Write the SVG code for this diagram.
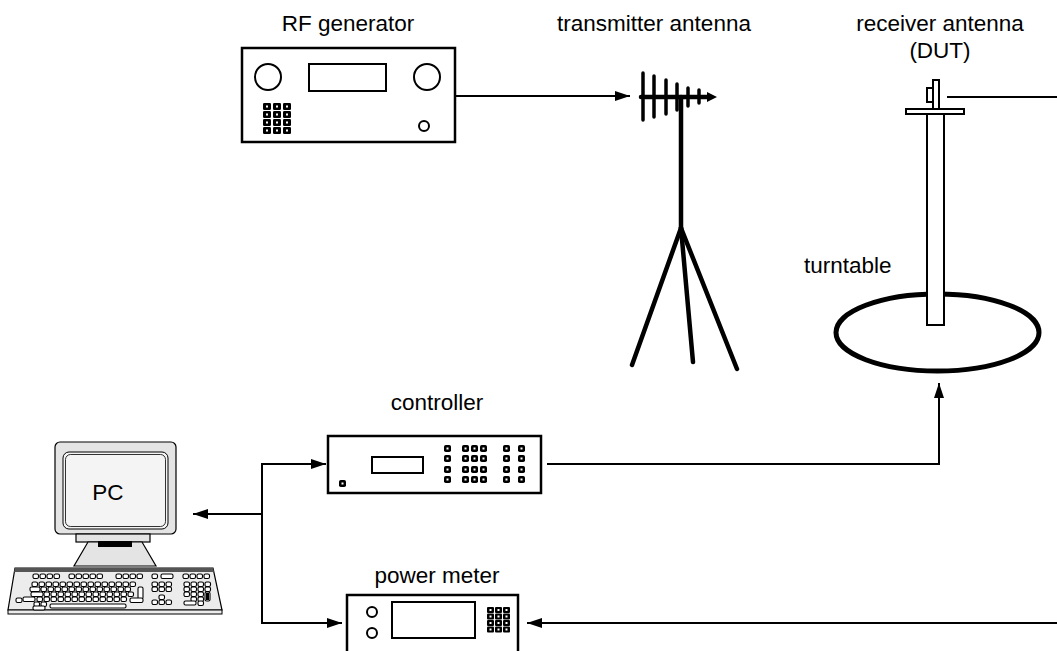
<svg xmlns="http://www.w3.org/2000/svg" xmlns:xlink="http://www.w3.org/1999/xlink" width="1057" height="651" viewBox="0 0 1057 651">
  <style>
    .lbl { font-family: "Liberation Sans", Arial, sans-serif; font-size: 22.5px; fill: #000; }
    .box { fill: #fff; stroke: #000; stroke-width: 2.5; }
    .thin { fill: #fff; stroke: #000; stroke-width: 2; }
    .wire { fill: none; stroke: #000; stroke-width: 2; }
    .rod { stroke: #000; stroke-linecap: round; fill: none; }
    .grey { fill: #e4e4e4; stroke: #000; stroke-width: 1.2; }
    .kb { fill: #fff; stroke: #000; stroke-width: 1.1; }
  </style>
  <defs>
    <marker id="arrow" markerUnits="userSpaceOnUse" markerWidth="15" markerHeight="10" refX="15" refY="5" orient="auto">
      <path d="M0,0 L15,5 L0,10 z" fill="#000"/>
    </marker>
    <!-- instrument push-buttons -->
    <g id="key6">
      <rect x="0" y="0" width="7" height="7" rx="1.8" fill="#000"/>
      <rect x="2.5" y="2.5" width="2" height="2" fill="#fff"/>
    </g>
    <g id="key8">
      <rect x="0" y="0" width="8" height="7" rx="1.2" fill="#000"/>
      <rect x="3" y="2.5" width="2" height="2" fill="#fff"/>
    </g>
    <g id="key7">
      <rect x="0" y="0" width="7" height="6" rx="1" fill="#000"/>
      <rect x="2.5" y="2" width="2" height="2" fill="#fff"/>
    </g>
    <!-- keyboard key -->
    <rect id="kk" x="0" y="0" width="5.5" height="4.5" rx="1.6" class="kb"/>
  </defs>

  <!-- RF generator -->
  <g id="rf-generator">
    <text class="lbl" x="348" y="31" text-anchor="middle">RF generator</text>
    <rect class="box" x="242" y="48" width="213" height="94"/>
    <circle class="thin" cx="268" cy="77" r="13"/>
    <circle class="thin" cx="427" cy="77" r="13"/>
    <rect class="thin" x="309" y="64" width="77" height="27"/>
    <circle class="thin" cx="424" cy="126" r="5" stroke-width="2.5"/>
    <g>
      <use xlink:href="#key8" x="263" y="103"/><use xlink:href="#key8" x="273" y="103"/><use xlink:href="#key8" x="283" y="103"/>
      <use xlink:href="#key8" x="263" y="111"/><use xlink:href="#key8" x="273" y="111"/><use xlink:href="#key8" x="283" y="111"/>
      <use xlink:href="#key8" x="263" y="119"/><use xlink:href="#key8" x="273" y="119"/><use xlink:href="#key8" x="283" y="119"/>
      <use xlink:href="#key8" x="263" y="127"/><use xlink:href="#key8" x="273" y="127"/><use xlink:href="#key8" x="283" y="127"/>
    </g>
  </g>

  <!-- transmitter antenna on tripod -->
  <g id="transmitter-antenna">
    <text class="lbl" x="654" y="31" text-anchor="middle">transmitter antenna</text>
    <line class="rod" x1="681" y1="97" x2="681" y2="228" stroke-width="4.5" stroke-linecap="butt"/>
    <line class="rod" x1="681" y1="228" x2="632" y2="365" stroke-width="4.5"/>
    <line class="rod" x1="681" y1="228" x2="693" y2="362" stroke-width="4.5"/>
    <line class="rod" x1="681" y1="228" x2="737" y2="369" stroke-width="4.5"/>
    <line class="rod" x1="641" y1="97" x2="709" y2="97" stroke-width="4.5" stroke-linecap="butt"/>
    <path d="M707,92 L717,97 L707,102 z" fill="#000"/>
    <g stroke-width="3.5" class="rod" stroke-linecap="butt">
      <line x1="643" y1="73" x2="643" y2="120"/>
      <line x1="654" y1="76" x2="654" y2="117"/>
      <line x1="666" y1="80" x2="666" y2="114"/>
      <line x1="677" y1="84" x2="677" y2="110"/>
      <line x1="688" y1="88" x2="688" y2="106"/>
      <line x1="699" y1="90" x2="699" y2="103"/>
    </g>
  </g>

  <!-- receiver antenna (DUT) on mast -->
  <g id="receiver-antenna">
    <text class="lbl" x="940" y="31" text-anchor="middle">receiver antenna</text>
    <text class="lbl" x="940" y="58" text-anchor="middle">(DUT)</text>
    <rect class="thin" x="927" y="88" width="6" height="14" stroke-width="1.5"/>
    <rect class="thin" x="933" y="80" width="6" height="29" stroke-width="2"/>
  </g>

  <!-- turntable with mast -->
  <g id="turntable">
    <text class="lbl" x="804" y="273">turntable</text>
    <ellipse cx="937.5" cy="332.5" rx="101.5" ry="38.5" fill="none" stroke="#000" stroke-width="5"/>
    <rect class="thin" x="927" y="113" width="17" height="212"/>
    <rect class="thin" x="906" y="109" width="58" height="5" stroke-width="2.5"/>
  </g>

  <!-- controller -->
  <g id="controller">
    <text class="lbl" x="437" y="410" text-anchor="middle">controller</text>
    <rect class="box" x="328" y="436" width="213" height="57"/>
    <rect class="thin" x="372" y="457" width="51" height="16"/>
    <use xlink:href="#key6" x="339" y="480"/>
    <g>
      <use xlink:href="#key6" x="444" y="445"/><use xlink:href="#key6" x="462" y="445"/><use xlink:href="#key6" x="471" y="445"/><use xlink:href="#key6" x="480" y="445"/><use xlink:href="#key6" x="503" y="445"/><use xlink:href="#key6" x="518" y="445"/>
      <use xlink:href="#key6" x="444" y="455"/><use xlink:href="#key6" x="462" y="455"/><use xlink:href="#key6" x="471" y="455"/><use xlink:href="#key6" x="480" y="455"/><use xlink:href="#key6" x="503" y="455"/><use xlink:href="#key6" x="518" y="455"/>
      <use xlink:href="#key6" x="444" y="466"/><use xlink:href="#key6" x="462" y="466"/><use xlink:href="#key6" x="471" y="466"/><use xlink:href="#key6" x="480" y="466"/><use xlink:href="#key6" x="503" y="466"/><use xlink:href="#key6" x="518" y="466"/>
      <use xlink:href="#key6" x="444" y="476"/><use xlink:href="#key6" x="462" y="476"/><use xlink:href="#key6" x="471" y="476"/><use xlink:href="#key6" x="480" y="476"/><use xlink:href="#key6" x="503" y="476"/><use xlink:href="#key6" x="518" y="476"/>
    </g>
  </g>

  <!-- power meter -->
  <g id="power-meter">
    <text class="lbl" x="437" y="583" text-anchor="middle">power meter</text>
    <rect class="box" x="347" y="595" width="171" height="70"/>
    <circle class="thin" cx="372" cy="612" r="5"/>
    <circle class="thin" cx="372" cy="633" r="5"/>
    <rect class="thin" x="392" y="602" width="83" height="36"/>
    <g>
      <use xlink:href="#key7" x="487" y="607"/><use xlink:href="#key7" x="495" y="607"/><use xlink:href="#key7" x="503" y="607"/>
      <use xlink:href="#key7" x="487" y="613.5"/><use xlink:href="#key7" x="495" y="613.5"/><use xlink:href="#key7" x="503" y="613.5"/>
      <use xlink:href="#key7" x="487" y="620"/><use xlink:href="#key7" x="495" y="620"/><use xlink:href="#key7" x="503" y="620"/>
      <use xlink:href="#key7" x="487" y="626.5"/><use xlink:href="#key7" x="495" y="626.5"/><use xlink:href="#key7" x="503" y="626.5"/>
    </g>
  </g>

  <!-- PC: monitor, stand and keyboard -->
  <g id="pc">
    <rect class="grey" x="55" y="442" width="121" height="92" rx="5"/>
    <rect x="63" y="452" width="105" height="77" rx="6" fill="#f4f4f4" stroke="#000" stroke-width="1"/>
    <rect x="65.5" y="454.5" width="100" height="72" rx="5" fill="#f4f4f4" stroke="#000" stroke-width="0.8"/>
    <text class="lbl" x="108" y="500" text-anchor="middle">PC</text>
    <rect class="grey" x="76" y="534" width="74" height="8"/>
    <polygon class="grey" points="88,542 142,542 156,566 74,566"/>
    <rect x="98" y="541" width="34" height="6" fill="#000"/>
    <!-- keyboard -->
    <polygon points="15,568 213,568 222,610 8,610" fill="#ececec" stroke="#000" stroke-width="1.2"/>
    <polygon points="15,568 213,568 214,572 14,572" fill="#555"/>
    <rect x="8" y="610" width="214" height="4" fill="#ececec" stroke="#000" stroke-width="1"/>
    <g id="keys">
      <!-- function row -->
      <use xlink:href="#kk" x="33" y="574"/><use xlink:href="#kk" x="40" y="574"/><use xlink:href="#kk" x="47" y="574"/><use xlink:href="#kk" x="54" y="574"/>
      <use xlink:href="#kk" x="69" y="574"/><use xlink:href="#kk" x="76" y="574"/><use xlink:href="#kk" x="83" y="574"/><use xlink:href="#kk" x="90" y="574"/><use xlink:href="#kk" x="97" y="574"/>
      <use xlink:href="#kk" x="116" y="574"/><use xlink:href="#kk" x="123" y="574"/><use xlink:href="#kk" x="130" y="574"/><use xlink:href="#kk" x="137" y="574"/>
      <use xlink:href="#kk" x="152" y="574"/><rect class="kb" x="161" y="574" width="12" height="4.5" rx="1.6"/>
      <use xlink:href="#kk" x="183" y="574"/><use xlink:href="#kk" x="190" y="574"/><use xlink:href="#kk" x="197" y="574"/><use xlink:href="#kk" x="204" y="574"/>
      <!-- main block rows -->
      <g>
        <use xlink:href="#kk" x="32" y="582"/><use xlink:href="#kk" x="39" y="582"/><use xlink:href="#kk" x="46" y="582"/><use xlink:href="#kk" x="53" y="582"/><use xlink:href="#kk" x="60" y="582"/><use xlink:href="#kk" x="67" y="582"/><use xlink:href="#kk" x="74" y="582"/><use xlink:href="#kk" x="81" y="582"/><use xlink:href="#kk" x="88" y="582"/><use xlink:href="#kk" x="95" y="582"/><use xlink:href="#kk" x="102" y="582"/><use xlink:href="#kk" x="109" y="582"/><use xlink:href="#kk" x="116" y="582"/><use xlink:href="#kk" x="123" y="582"/><use xlink:href="#kk" x="130" y="582"/>
        <rect class="kb" x="30" y="587" width="10" height="4.5" rx="1.6"/><use xlink:href="#kk" x="41" y="587"/><use xlink:href="#kk" x="48" y="587"/><use xlink:href="#kk" x="55" y="587"/><use xlink:href="#kk" x="62" y="587"/><use xlink:href="#kk" x="69" y="587"/><use xlink:href="#kk" x="76" y="587"/><use xlink:href="#kk" x="83" y="587"/><use xlink:href="#kk" x="90" y="587"/><use xlink:href="#kk" x="97" y="587"/><use xlink:href="#kk" x="104" y="587"/><use xlink:href="#kk" x="111" y="587"/><use xlink:href="#kk" x="118" y="587"/><use xlink:href="#kk" x="125" y="587"/>
        <rect class="kb" x="138" y="587" width="5" height="12" rx="1.5"/>
        <rect class="kb" x="31" y="592" width="12" height="4.5" rx="1.6"/><use xlink:href="#kk" x="44" y="592"/><use xlink:href="#kk" x="51" y="592"/><use xlink:href="#kk" x="58" y="592"/><use xlink:href="#kk" x="65" y="592"/><use xlink:href="#kk" x="72" y="592"/><use xlink:href="#kk" x="79" y="592"/><use xlink:href="#kk" x="86" y="592"/><use xlink:href="#kk" x="93" y="592"/><use xlink:href="#kk" x="100" y="592"/><use xlink:href="#kk" x="107" y="592"/><use xlink:href="#kk" x="114" y="592"/><use xlink:href="#kk" x="121" y="592"/><use xlink:href="#kk" x="128" y="592"/>
        <rect class="kb" x="16" y="598" width="6" height="4.5" rx="1.6"/><rect class="kb" x="23" y="597" width="12" height="4.5" rx="1.6"/><use xlink:href="#kk" x="37" y="597"/><use xlink:href="#kk" x="44" y="597"/><use xlink:href="#kk" x="51" y="597"/><use xlink:href="#kk" x="58" y="597"/><use xlink:href="#kk" x="65" y="597"/><use xlink:href="#kk" x="72" y="597"/><use xlink:href="#kk" x="79" y="597"/><use xlink:href="#kk" x="86" y="597"/><use xlink:href="#kk" x="93" y="597"/><use xlink:href="#kk" x="100" y="597"/><use xlink:href="#kk" x="107" y="597"/><use xlink:href="#kk" x="114" y="597"/><use xlink:href="#kk" x="121" y="597"/><rect class="kb" x="130" y="598" width="13" height="4.5" rx="1.6"/>
        <use xlink:href="#kk" x="34" y="602"/><use xlink:href="#kk" x="41" y="602"/><rect class="kb" x="33" y="606" width="12" height="4" rx="1.5"/>
        <rect class="kb" x="50" y="604" width="76" height="4" rx="1.5"/>
      </g>
      <!-- navigation block -->
      <g>
        <use xlink:href="#kk" x="152" y="582"/><use xlink:href="#kk" x="159" y="582"/><use xlink:href="#kk" x="166" y="582"/>
        <use xlink:href="#kk" x="152" y="587"/><use xlink:href="#kk" x="159" y="587"/><use xlink:href="#kk" x="166" y="587"/>
        <use xlink:href="#kk" x="159" y="595"/>
        <use xlink:href="#kk" x="152" y="600"/><use xlink:href="#kk" x="159" y="600"/><use xlink:href="#kk" x="166" y="600"/>
      </g>
      <!-- numeric keypad -->
      <g>
        <use xlink:href="#kk" x="184" y="582"/><use xlink:href="#kk" x="191" y="582"/><use xlink:href="#kk" x="198" y="582"/><use xlink:href="#kk" x="205" y="582"/>
        <use xlink:href="#kk" x="184" y="587"/><use xlink:href="#kk" x="191" y="587"/><use xlink:href="#kk" x="198" y="587"/><use xlink:href="#kk" x="205" y="587"/>
        <use xlink:href="#kk" x="184" y="592"/><use xlink:href="#kk" x="191" y="592"/><use xlink:href="#kk" x="198" y="592"/>
        <rect class="kb" x="205" y="592" width="5" height="9" rx="1.5"/>
        <use xlink:href="#kk" x="191" y="597"/><use xlink:href="#kk" x="198" y="597"/>
        <rect class="kb" x="184" y="601" width="12" height="4" rx="1.5"/><use xlink:href="#kk" x="198" y="601"/>
        <rect x="206" y="593" width="3" height="7" fill="#000"/>
      </g>
    </g>
  </g>

  <!-- signal and control lines -->
  <g id="connectors">
    <line class="wire" x1="455" y1="96" x2="630" y2="96" marker-end="url(#arrow)"/>
    <line class="wire" x1="947" y1="97" x2="1057" y2="97"/>
    <polyline class="wire" points="547,464 939,464 939,383" marker-end="url(#arrow)"/>
    <line class="wire" x1="262" y1="514" x2="193" y2="514" marker-end="url(#arrow)"/>
    <polyline class="wire" points="262,623 262,464 326,464" marker-end="url(#arrow)"/>
    <polyline class="wire" points="262,600 262,623 342,623" marker-end="url(#arrow)"/>
    <line class="wire" x1="1057" y1="623" x2="527" y2="623" marker-end="url(#arrow)"/>
  </g>
</svg>
